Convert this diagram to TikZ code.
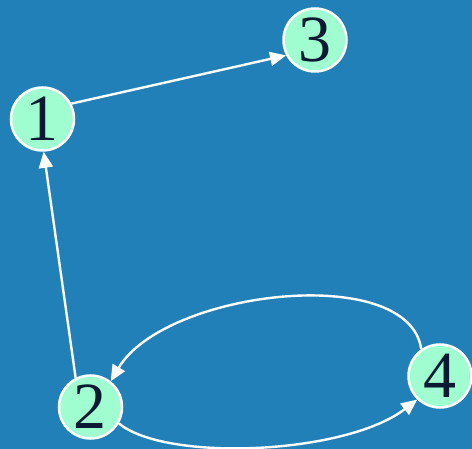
\documentclass[tikz,border=0pt]{standalone}
\usepackage{fontspec}
\setmainfont{Liberation Serif}
\usetikzlibrary{arrows.meta}
\definecolor{bgblue}{RGB}{33,128,183}
\definecolor{mint}{RGB}{160,253,208}
\definecolor{ink}{RGB}{10,26,50}
\tikzset{
  vertex/.style={circle, draw=white, line width=2.5pt, fill=mint, minimum size=63pt,
    inner sep=0pt, text=ink, font=\fontsize{66}{66}\selectfont},
  edge/.style={draw=white, line width=2.4pt, -{Triangle[length=16pt,width=14pt]}}
}
\begin{document}
\begin{tikzpicture}[x=1pt,y=-1pt]
  \fill[bgblue] (0,0) rectangle (472,449);
  \useasboundingbox (0,0) rectangle (472,449);
  \node[vertex] (n1) at (42.5,119) {1};
  \node[vertex] (n3) at (315,40) {3};
  \node[vertex] (n2) at (90.5,407) {2};
  \node[vertex] (n4) at (440,376) {4};
  \draw[edge] (n1.28) -- (n3.208);
  \draw[edge] (n2.117) -- (n1.272);
  \draw[edge] (n4.125) .. controls (409,262) and (165,290) .. (n2.52);
  \draw[edge] (n2.-30) .. controls (165,462) and (345,455) .. (n4.-134);
\end{tikzpicture}
\end{document}
